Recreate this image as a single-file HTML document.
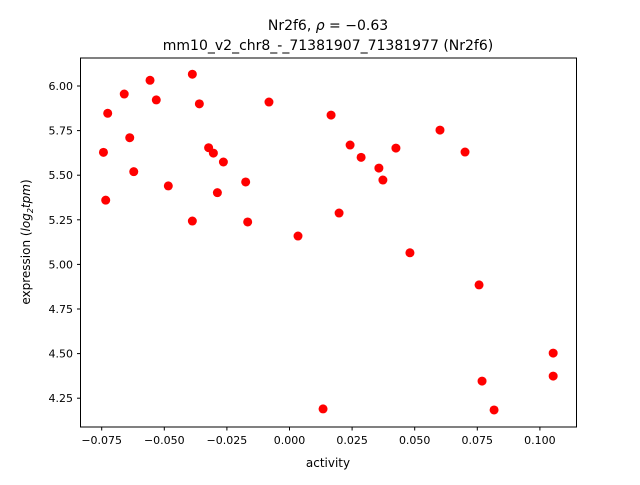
<!DOCTYPE html>
<html><head><meta charset="utf-8"><style>
body{margin:0;background:#fff;}
svg text{font-family:"DejaVu Sans","Liberation Sans",sans-serif;fill:#000;}
</style></head><body>
<svg id="chart" width="640" height="480" xmlns="http://www.w3.org/2000/svg">
<rect width="640" height="480" fill="#fff"/>
<text x="328" y="30" font-size="14" text-anchor="middle">Nr2f6, <tspan font-style="italic">ρ</tspan> = −0.63</text>
<text x="328" y="50" font-size="14" text-anchor="middle">mm10_v2_chr8_-_71381907_71381977 (Nr2f6)</text>
<g id="plot"></g>
<rect x="80.5" y="58" width="496" height="369" fill="none" stroke="#000" stroke-width="1"/>
<text x="328" y="467" font-size="12" text-anchor="middle">activity</text>
<text transform="translate(30,242) rotate(-90)" font-size="12" text-anchor="middle">expression (<tspan font-style="italic">log</tspan><tspan font-size="8" dy="3" font-style="italic">2</tspan><tspan dy="-3" font-style="italic">tpm</tspan>)</text>
</svg>
<script>
const xVals=[-0.0743,-0.0726,-0.066,-0.0557,-0.0532,-0.0388,-0.036,-0.0638,-0.0622,-0.0734,-0.0484,-0.0388,-0.0323,-0.0304,-0.0264,-0.0288,-0.0175,-0.0167,-0.0082,0.0166,0.0242,0.0286,0.0198,0.0034,0.0357,0.0373,0.0425,0.0601,0.0701,0.0481,0.0757,0.1053,0.1053,0.0769,0.0134,0.0817];
const yVals=[5.628,5.847,5.955,6.032,5.922,6.066,5.90,5.71,5.52,5.36,5.44,5.243,5.654,5.624,5.574,5.402,5.462,5.238,5.91,5.837,5.669,5.60,5.288,5.159,5.54,5.473,5.652,5.753,5.63,5.065,4.885,4.503,4.374,4.346,4.19,4.184];
const xTicks=[-0.075,-0.050,-0.025,0.000,0.025,0.050,0.075,0.100];
const xTickLabels=["−0.075","−0.050","−0.025","0.000","0.025","0.050","0.075","0.100"];
const yTicks=[4.25,4.50,4.75,5.00,5.25,5.50,5.75,6.00];
const yTickLabels=["4.25","4.50","4.75","5.00","5.25","5.50","5.75","6.00"];
const sx=v=>289.5+v*2504;
const sy=v=>86+(6-v)*178.4;
const NS="http://www.w3.org/2000/svg";
const g=document.getElementById('plot');
function mk(t,a){const e=document.createElementNS(NS,t);for(const k in a)e.setAttribute(k,a[k]);g.appendChild(e);return e;}
xTicks.forEach((v,i)=>{
 const l=mk('line',{x1:sx(v),x2:sx(v),y1:427,y2:430.5,stroke:'#000'});
 
 
 const t=mk('text',{x:sx(v),y:444,'font-size':11,'text-anchor':'middle'});
 t.textContent=xTickLabels[i];
 
 
});
yTicks.forEach((v,i)=>{
 const l=mk('line',{x1:77,x2:80.5,y1:sy(v),y2:sy(v),stroke:'#000'});
 
 
 const t=mk('text',{x:73,y:sy(v)+4,'font-size':11,'text-anchor':'end'});
 t.textContent=yTickLabels[i];
 
 
});
xVals.forEach((v,i)=>{
 const c=mk('circle',{cx:sx(v),cy:sy(yVals[i]),r:4.5,fill:'#ff0000'});
 
 
});
</script>
</body></html>
